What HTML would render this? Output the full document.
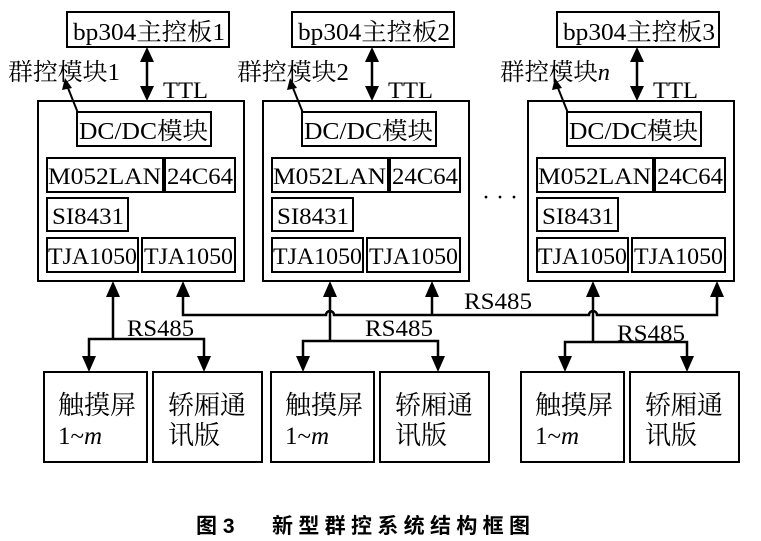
<!DOCTYPE html>
<html><head><meta charset="utf-8"><style>
html,body{margin:0;padding:0;background:#fff;}
svg{display:block;}
text{font-family:"Liberation Serif","Noto Serif CJK SC",serif;fill:#000;}
</style></head><body>
<svg width="761" height="541" viewBox="0 0 761 541" xmlns="http://www.w3.org/2000/svg">
<defs>
<g id="mod">
<rect x="38" y="101" width="206" height="180" fill="none" stroke="#000" stroke-width="2"/>
<rect x="67" y="12" width="162" height="35" fill="none" stroke="#000" stroke-width="2"/>
<line x1="147" y1="59" x2="147" y2="88" stroke="#000" stroke-width="2.5"/>
<path d="M140,62 L147,47 L154,62 z M140,86 L147,101 L154,86 z" fill="#000"/>
<text x="163" y="98" font-size="23" textLength="45" lengthAdjust="spacingAndGlyphs">TTL</text>
<rect x="77" y="112" width="134" height="34" fill="none" stroke="#000" stroke-width="2"/>
<text x="79" y="139" font-size="24" textLength="129" lengthAdjust="spacingAndGlyphs">DC/DC模块</text>
<line x1="78" y1="113" x2="68" y2="88" stroke="#000" stroke-width="2"/>
<path d="M62,90 L65,78 L72,88 z" fill="#000"/>
<rect x="47" y="158" width="116" height="34" fill="none" stroke="#000" stroke-width="2"/>
<text x="48" y="184" font-size="23" textLength="113" lengthAdjust="spacingAndGlyphs">M052LAN</text>
<rect x="165" y="158" width="70" height="34" fill="none" stroke="#000" stroke-width="2"/>
<text x="167" y="184" font-size="23" textLength="66" lengthAdjust="spacingAndGlyphs">24C64</text>
<rect x="47" y="198" width="81" height="33" fill="none" stroke="#000" stroke-width="2"/>
<text x="52" y="224" font-size="23" textLength="72" lengthAdjust="spacingAndGlyphs">SI8431</text>
<rect x="47" y="238" width="91" height="34" fill="none" stroke="#000" stroke-width="2"/>
<text x="48" y="264" font-size="23" textLength="89" lengthAdjust="spacingAndGlyphs">TJA1050</text>
<rect x="142" y="238" width="93" height="34" fill="none" stroke="#000" stroke-width="2"/>
<text x="144" y="264" font-size="23" textLength="89" lengthAdjust="spacingAndGlyphs">TJA1050</text>
</g>
<g id="grp">
<rect x="44" y="372" width="103" height="90" fill="none" stroke="#000" stroke-width="2"/>
<rect x="153" y="372" width="109" height="90" fill="none" stroke="#000" stroke-width="2"/>
<text x="58" y="414" font-size="26" textLength="78" lengthAdjust="spacingAndGlyphs">触摸屏</text>
<text x="58" y="444" font-size="25">1~<tspan font-style="italic">m</tspan></text>
<text x="168" y="414" font-size="26" textLength="78" lengthAdjust="spacingAndGlyphs">轿厢通</text>
<text x="168" y="444" font-size="26">讯版</text>
</g>
</defs>
<use href="#mod"/>
<use href="#mod" transform="translate(225,0)"/>
<use href="#mod" transform="translate(490,0)"/>
<text x="73" y="40" font-size="24" textLength="152" lengthAdjust="spacingAndGlyphs">bp304主控板1</text>
<text x="298" y="40" font-size="24" textLength="152" lengthAdjust="spacingAndGlyphs">bp304主控板2</text>
<text x="563" y="40" font-size="24" textLength="152" lengthAdjust="spacingAndGlyphs">bp304主控板3</text>
<text x="8" y="80" font-size="24" textLength="112" lengthAdjust="spacingAndGlyphs">群控模块1</text>
<text x="237" y="80" font-size="24" textLength="112" lengthAdjust="spacingAndGlyphs">群控模块2</text>
<text x="500" y="80" font-size="24" textLength="110" lengthAdjust="spacingAndGlyphs">群控模块<tspan font-style="italic">n</tspan></text>
<text x="482" y="205" font-size="24">· · ·</text>

<use href="#grp"/>
<use href="#grp" transform="translate(227,0)"/>
<use href="#grp" transform="translate(477,0)"/>

<g stroke="#000" stroke-width="2.5" fill="none">
<line x1="113" y1="294" x2="113" y2="339"/>
<polyline points="89,358 89,339 204,339 204,358"/>
<path d="M183,294 L183,315 L326,315 A4,4 0 0 1 334,315 L589,315 A4,4 0 0 1 597,315 L717,315 L717,294"/>
<line x1="432" y1="315" x2="432" y2="294"/>
<line x1="330" y1="294" x2="330" y2="341"/>
<polyline points="303,358 303,341 438,341 438,358"/>
<line x1="593" y1="294" x2="593" y2="342"/>
<polyline points="565,358 565,342 687,342 687,358"/>
</g>
<g fill="#000">
<path d="M106,297 L113,281 L120,297 z M176,297 L183,281 L190,297 z"/>
<path d="M323,297 L330,281 L337,297 z M425,297 L432,281 L439,297 z"/>
<path d="M586,297 L593,281 L600,297 z M710,297 L717,281 L724,297 z"/>
<path d="M82,356 L89,372 L96,356 z M197,356 L204,372 L211,356 z"/>
<path d="M296,356 L303,372 L310,356 z M431,356 L438,372 L445,356 z"/>
<path d="M558,356 L565,372 L572,356 z M680,356 L687,372 L694,356 z"/>
</g>
<text x="127" y="336" font-size="23" textLength="67" lengthAdjust="spacingAndGlyphs">RS485</text>
<text x="365" y="336" font-size="23" textLength="68" lengthAdjust="spacingAndGlyphs">RS485</text>
<text x="464" y="309" font-size="23" textLength="68" lengthAdjust="spacingAndGlyphs">RS485</text>
<text x="617" y="341" font-size="23" textLength="68" lengthAdjust="spacingAndGlyphs">RS485</text>
<text x="196" y="533" font-size="21" font-weight="bold" style="font-family:'Liberation Sans','Noto Sans CJK SC',sans-serif">图 3</text>
<text x="272" y="533" font-size="21" font-weight="bold" textLength="258" lengthAdjust="spacing" style="font-family:'Liberation Sans','Noto Sans CJK SC',sans-serif">新型群控系统结构框图</text>
</svg>
</body></html>
